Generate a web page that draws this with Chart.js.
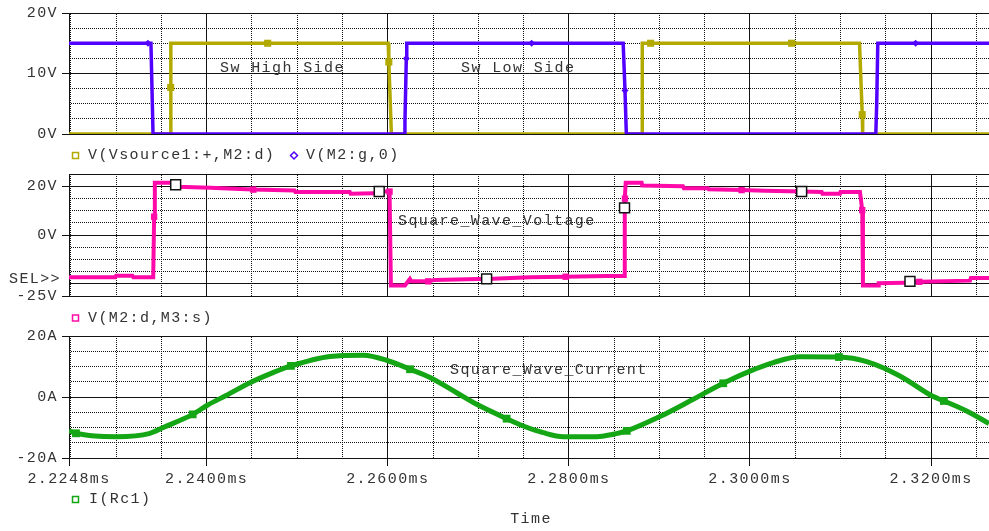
<!DOCTYPE html>
<html>
<head>
<meta charset="utf-8">
<script src="https://cdn.jsdelivr.net/npm/chart.js@4/dist/chart.umd.min.js"></script>
<style>
  html, body { margin: 0; padding: 0; background: #fff; }
  #wrap { position: relative; width: 989px; height: 531px; overflow: hidden; background: #fff; }
  #wrap canvas { position: absolute; left: 0; top: 0; }
</style>
</head>
<body>
<div id="wrap">
  <canvas id="cGate" width="989" height="531"></canvas>
  <canvas id="cVolt" width="989" height="531"></canvas>
  <canvas id="cCurr" width="989" height="531"></canvas>
</div>
<script>
// ---- time axis (ms) ----
const tMin = 2.2248, tMax = 2.3264;
const timeLabels = [2.2248, 2.24, 2.26, 2.28, 2.30, 2.32];
const timeGrid = [2.2248, 2.225, 2.230, 2.235, 2.240, 2.245, 2.250, 2.255, 2.260, 2.265, 2.270,
                  2.275, 2.280, 2.285, 2.290, 2.295, 2.300, 2.305, 2.310, 2.315, 2.320, 2.325];

// ---- panel 1: switch voltages ----
const gateTicks = [0, 2.5, 5, 7.5, 10, 12.5, 15, 17.5, 20];
const gateLabels = [0, 10, 20];

const srcT = [2.2248, 2.23600, 2.23603, 2.23606, 2.24674, 2.26005, 2.26012, 2.26040, 2.28808, 2.28811,
              2.28903, 2.30460, 2.31210, 2.31240, 2.31245, 2.3264];
const srcV = [0, 0, 7.7, 15, 15, 15, 11.9, 0, 0, 15, 15, 15, 15, 3.2, 0, 0];
const srcM = [0, 0, 1, 0, 1, 0, 1, 0, 0, 0, 1, 1, 0, 1, 0, 0];

const gateT = [2.2248, 2.23352, 2.23385, 2.23408, 2.26180, 2.26190, 2.26205, 2.26210, 2.27589, 2.28600,
               2.28620, 2.28635, 2.31390, 2.31400, 2.31412, 2.31830, 2.3264];
const gateV = [15, 15, 15, 0, 0, 2, 12.5, 15, 15, 15, 7.2, 0, 0, 5, 15, 15, 15];
const gateM = [0, 1, 0, 0, 0, 0, 1, 0, 1, 0, 1, 0, 0, 0, 0, 1, 0];

// ---- panel 2: bridge output voltage ----
const voltTicks = [-25, -20, -15, -10, -5, 0, 5, 10, 15, 20, 25];
const voltLabels = [-25, 0, 20];
const voltSolid = [-25, -20, 0, 20, 25];

const vdsT = [2.2248, 2.2299, 2.2300, 2.2318, 2.2319, 2.2341, 2.23420, 2.23428, 2.23640, 2.23658,
              2.23680, 2.24040, 2.24370, 2.24515, 2.24970, 2.24980, 2.25580, 2.25590, 2.25850, 2.25906,
              2.26020, 2.26035, 2.26190, 2.26245, 2.26260, 2.26448, 2.26520, 2.27000, 2.27092, 2.27571,
              2.27965, 2.28418, 2.28610, 2.28615, 2.28620, 2.28628, 2.28804, 2.28810, 2.29260, 2.29270,
              2.29536, 2.29545, 2.29908, 2.30166, 2.30571, 2.30792, 2.30800, 2.30994, 2.31000, 2.31215,
              2.31240, 2.31248, 2.31417, 2.31422, 2.31712, 2.31767, 2.31870, 2.32430, 2.32440, 2.3264];
const vdsV = [-17.3, -17.3, -16.7, -16.7, -17.3, -17.3, 7.5, 21.4, 21.4, 20.6,
              19.8, 19.4, 18.9, 18.6, 18.2, 17.6, 17.6, 16.9, 17.1, 17.8,
              17.8, -20.7, -20.7, -18.0, -19.0, -19.0, -18.4, -18.0, -18.0, -17.3,
              -17.1, -16.8, -16.8, 11.1, 14.9, 21.4, 21.4, 20.3, 20.0, 19.2,
              19.2, 18.7, 18.4, 18.1, 17.8, 17.6, 16.9, 16.9, 17.6, 17.6,
              10.2, -20.7, -20.7, -19.8, -19.6, -19.0, -19.2, -18.7, -17.6, -17.6];
// 1 = filled trace marker, 2 = open marker
const vdsM = [0, 0, 0, 0, 0, 0, 1, 0, 0, 2,
              0, 0, 0, 1, 0, 0, 0, 0, 0, 2,
              1, 0, 0, 0, 0, 1, 0, 0, 2, 0,
              1, 0, 0, 2, 1, 0, 0, 0, 0, 0,
              0, 0, 1, 0, 2, 0, 0, 0, 0, 0,
              1, 0, 0, 0, 0, 2, 1, 0, 0, 0];

// ---- panel 3: load current ----
const currTicks = [-20, -15, -10, -5, 0, 5, 10, 15, 20];
const currLabels = [-20, 0, 20];

const curT = [2.2248, 2.22557, 2.22767, 2.23007, 2.23374, 2.23521, 2.23846, 2.24007, 2.24221, 2.24479,
              2.24733, 2.24931, 2.25362, 2.25730, 2.26010, 2.26246, 2.26467, 2.26761, 2.26982, 2.27313,
              2.27497, 2.27718, 2.27939, 2.28307, 2.28491, 2.28640, 2.29006, 2.29374, 2.29705, 2.30000,
              2.30258, 2.30552, 2.30983, 2.31289, 2.31656, 2.32013, 2.32142, 2.32393, 2.3264];
const curI = [-11.1, -11.9, -12.8, -13.0, -11.9, -10.0, -5.7, -2.7, 0.6, 4.7,
              8.0, 10.2, 13.3, 13.7, 11.8, 9.1, 6.4, 1.4, -2.4, -7.1,
              -9.5, -11.7, -13.0, -13.0, -12.2, -11.1, -6.4, -0.75, 4.5, 8.5,
              11.3, 13.2, 13.1, 11.6, 6.9, 0.3, -1.3, -4.6, -8.7];
const curM = [0, 1, 0, 0, 0, 0, 1, 0, 0, 0,
              0, 1, 0, 0, 0, 1, 0, 0, 0, 1,
              0, 0, 0, 0, 0, 1, 0, 0, 1, 0,
              0, 0, 1, 0, 0, 0, 1, 0, 0];

// ---- colours ----
const OLIVE = '#b2aa00', VIOLET = '#5200ff', PINK = '#ff0aa8', GREEN = '#14a614';
const GRID = '#111', INK = '#333';

// checkerboard stroke: a 1px line drawn with it comes out as a dotted rule
const dotPattern = (() => {
  const c = document.createElement('canvas');
  c.width = 2; c.height = 2;
  const g = c.getContext('2d');
  g.fillStyle = '#111';
  g.fillRect(0, 0, 1, 1);
  g.fillRect(1, 1, 1, 1);
  return g.createPattern(c, 'repeat');
})();

Chart.defaults.font.family = '"Liberation Mono", "DejaVu Sans Mono", monospace';
Chart.defaults.font.size = 15;
Chart.defaults.color = INK;
Chart.defaults.animation = false;

const near = (a, b) => Math.abs(a - b) < 1e-7;
const inList = (list, v) => v !== undefined && list.some(x => near(x, v));
const series = (ts, vs, ms) => ts.map((t, i) => ({ x: t, y: vs[i], m: ms[i] }));

// text, legend keys and letter spacing for each panel
const panelText = {
  id: 'panelText',
  beforeDraw(chart) { chart.ctx.letterSpacing = '1.4px'; },
  afterDraw(chart, args, opts) {
    const ctx = chart.ctx;
    ctx.save();
    ctx.font = '15px "Liberation Mono", "DejaVu Sans Mono", monospace';
    ctx.fillStyle = INK;
    ctx.textBaseline = 'middle';
    for (const it of (opts.items || [])) {
      ctx.textAlign = it.align || 'left';
      ctx.fillText(it.text, it.x, it.y);
    }
    for (const k of (opts.keys || [])) {
      ctx.strokeStyle = k.color;
      ctx.lineWidth = 1.5;
      if (k.shape === 'diamond') {
        ctx.beginPath();
        ctx.moveTo(k.x, k.y - 3.5); ctx.lineTo(k.x + 3.5, k.y);
        ctx.lineTo(k.x, k.y + 3.5); ctx.lineTo(k.x - 3.5, k.y);
        ctx.closePath(); ctx.stroke();
      } else {
        ctx.strokeRect(k.x - 3, k.y - 3, 6, 6);
      }
    }
    ctx.restore();
  }
};

function timeScale(showLabels, height) {
  return {
    type: 'linear', min: tMin, max: tMax, offset: false,
    afterBuildTicks: s => { s.ticks = timeGrid.map(v => ({ value: v })); },
    afterFit: s => { s.height = height; },
    ticks: {
      display: showLabels, autoSkip: false, maxRotation: 0, minRotation: 0, padding: 4,
      callback: v => inList(timeLabels, v) ? v.toFixed(4) + 'ms' : ''
    },
    grid: {
      lineWidth: 1, drawTicks: showLabels, tickLength: 8,
      color: c => (c.tick && !inList(timeLabels, c.tick.value)) ? dotPattern : GRID,
      tickColor: c => (c.tick && inList(timeLabels, c.tick.value)) ? GRID : 'rgba(0,0,0,0)'
    },
    border: { display: true, color: GRID, width: 1 }
  };
}

function valueScale(min, max, ticks, labels, solid, unit) {
  return {
    type: 'linear', min, max,
    afterBuildTicks: s => { s.ticks = ticks.map(v => ({ value: v })); },
    afterFit: s => { s.width = 69; },
    ticks: {
      autoSkip: false, padding: 4,
      callback: v => inList(labels, v) ? v + unit : ''
    },
    grid: {
      lineWidth: 1, drawTicks: true, tickLength: 7,
      color: c => (c.tick && !inList(solid, c.tick.value)) ? dotPattern : GRID,
      tickColor: c => (c.tick && inList(labels, c.tick.value)) ? GRID : 'rgba(0,0,0,0)'
    },
    border: { display: true, color: GRID, width: 1 }
  };
}

function panel(id, datasets, top, padBottom, xScale, yScale, text) {
  return new Chart(document.getElementById(id), {
    type: 'line',
    data: { datasets },
    options: {
      responsive: false, devicePixelRatio: 1, animation: false,
      layout: { padding: { left: 0, right: 0, top, bottom: padBottom } },
      plugins: { legend: { display: false }, tooltip: { enabled: false }, panelText: text },
      elements: { line: { tension: 0, borderCapStyle: 'butt', borderJoinStyle: 'miter' } },
      scales: { x: xScale, y: yScale }
    },
    plugins: [panelText]
  });
}

const markerRadius = r => c => (c.raw && c.raw.m) ? r : 0;

// Panel 1: gate drive (violet) drawn over the source-drain voltage (olive)
panel('cGate', [
  {
    label: 'V(M2:g,0)', data: series(gateT, gateV, gateM),
    borderColor: VIOLET, borderWidth: 3.5, pointStyle: 'rectRot',
    pointRadius: markerRadius(3.5), pointBackgroundColor: VIOLET, pointBorderWidth: 0
  },
  {
    label: 'V(Vsource1:+,M2:d)', data: series(srcT, srcV, srcM),
    borderColor: OLIVE, borderWidth: 3.5, pointStyle: 'rect',
    pointRadius: markerRadius(5), pointBackgroundColor: OLIVE, pointBorderWidth: 0
  }
], 12, 397, timeScale(false, 0), valueScale(0, 20, gateTicks, gateLabels, [0, 10, 20], 'V'), {
  items: [
    { text: 'Sw High Side', x: 220, y: 68 },
    { text: 'Sw Low Side', x: 461, y: 68 },
    { text: 'V(Vsource1:+,M2:d)', x: 88, y: 155.5 },
    { text: 'V(M2:g,0)', x: 306, y: 155.5 }
  ],
  keys: [
    { shape: 'square', color: OLIVE, x: 75.5, y: 155.5 },
    { shape: 'diamond', color: VIOLET, x: 294, y: 155.5 }
  ]
});

// Panel 2: square-wave output voltage
panel('cVolt', [
  {
    label: 'V(M2:d,M3:s)', data: series(vdsT, vdsV, vdsM),
    borderColor: PINK, borderWidth: 4, pointStyle: 'rect',
    pointRadius: c => (c.raw && c.raw.m === 2) ? 7 : (c.raw && c.raw.m === 1) ? 4.5 : 0,
    pointBackgroundColor: c => (c.raw && c.raw.m === 2) ? '#ffffff' : PINK,
    pointBorderColor: c => (c.raw && c.raw.m === 2) ? '#111' : PINK,
    pointBorderWidth: c => (c.raw && c.raw.m === 2) ? 1.5 : 0
  }
], 174, 235, timeScale(false, 0), valueScale(-25, 25, voltTicks, voltLabels, voltSolid, 'V'), {
  items: [
    { text: 'Square_Wave_Voltage', x: 398, y: 221 },
    { text: 'SEL>>', x: 9, y: 279 },
    { text: 'V(M2:d,M3:s)', x: 88, y: 318 }
  ],
  keys: [{ shape: 'square', color: PINK, x: 75.5, y: 318 }]
});

// Panel 3: load current
panel('cCurr', [
  {
    label: 'I(Rc1)', data: series(curT, curI, curM),
    borderColor: GREEN, borderWidth: 5, cubicInterpolationMode: 'monotone',
    borderJoinStyle: 'round', pointStyle: 'rect',
    pointRadius: markerRadius(5.5), pointBackgroundColor: GREEN, pointBorderWidth: 0
  }
], 336, 33, timeScale(true, 40), valueScale(-20, 20, currTicks, currLabels, [-20, 0, 20], 'A'), {
  items: [
    { text: 'Square_Wave_Current', x: 450, y: 370.5 },
    { text: 'I(Rc1)', x: 89, y: 499.5 },
    { text: 'Time', x: 531, y: 519, align: 'center' }
  ],
  keys: [{ shape: 'square', color: GREEN, x: 75.5, y: 499.5 }]
});
</script>
</body>
</html>
